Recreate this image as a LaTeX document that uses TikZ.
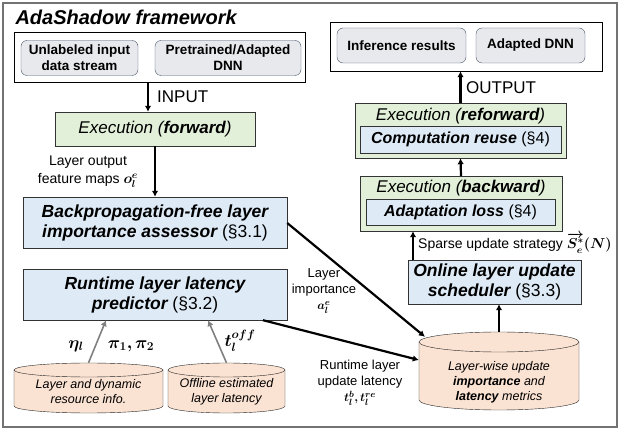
\documentclass[tikz,border=0pt]{standalone}
\usepackage{amsmath,bm}
\usepackage{fontspec}
\setmainfont{Liberation Sans}
\usetikzlibrary{arrows.meta}

\definecolor{boxblue}{HTML}{DEEBF7}
\definecolor{boxgreen}{HTML}{E2F0D9}
\definecolor{boxgray}{HTML}{E8E9ED}
\definecolor{edgegray}{HTML}{44546A}
\definecolor{dbpeach}{HTML}{FBE3D3}

\newcommand{\secnum}[1]{{\upshape\mdseries(§#1)}}

\tikzset{
  arr/.style={-{Latex[length=6pt,width=6.5pt]}, line width=2.2pt},
  garr/.style={-{Latex[length=6pt,width=6.5pt]}, line width=1.6pt, black!50},
}

\begin{document}
\begin{tikzpicture}[x=1pt,y=-1pt]
        \useasboundingbox (0,0) rectangle (619,430);
        \draw[black!55, line width=1.5pt] (3,3) rectangle (617,427);
        \node[anchor=base west, font=\fontsize{20}{24}\selectfont\bfseries\itshape] (title) at (12,25) {AdaShadow framework};

        % input / output frames
        \begin{scope}[every node/.style={draw, fill=white, inner sep=0}]
          \node[minimum width=291, minimum height=50] (incont)  at (159.5,57)  {};
          \node[minimum width=272, minimum height=49] (outcont) at (466,46.5)  {};
        \end{scope}

        \begin{scope}[every node/.style={draw=edgegray, fill=boxgray, rounded corners=6pt, align=center,
            inner sep=0, minimum height=35, font=\fontsize{13.5}{16}\selectfont\bfseries}]
          \node[minimum width=117] (unl) at (79.5,58)   {Unlabeled input\\data stream};
          \node[minimum width=146] (pre) at (228,58)    {Pretrained/Adapted\\DNN};
          \node[minimum width=129] (inf) at (401.5,45.5) {Inference results};
          \node[minimum width=109] (adn) at (530.5,45.5) {Adapted DNN};
        \end{scope}

        % execution stages
        \begin{scope}[every node/.style={draw=black!80, fill=boxgreen, inner sep=0,
            font=\fontsize{17}{20}\selectfont\itshape}]
          \node[minimum width=200, minimum height=34] (fw)   at (155,129)   {Execution (\textbf{forward})};
          \node[minimum width=211, minimum height=55] (refw) at (460.5,130.5) {};
          \node[minimum width=202, minimum height=55] (bw)   at (461,203.5) {};
        \end{scope}
        \begin{scope}[every node/.style={inner sep=0, font=\fontsize{17}{20}\selectfont\itshape}]
          \node (refwt) at (460.5,116) {Execution (\textbf{reforward})};
          \node (bwt)   at (461,188)   {Execution (\textbf{backward})};
        \end{scope}

        % modules
        \begin{scope}[every node/.style={draw=black!80, fill=boxblue, align=center, inner sep=0,
            font=\fontsize{17.5}{20}\selectfont\bfseries\itshape}]
          \node[minimum width=264, minimum height=51] (bp)    at (155,222.5) {Backpropagation-free layer\\importance assessor \secnum{3.1}};
          \node[minimum width=264, minimum height=51] (pred)  at (155,294.5) {Runtime layer latency\\predictor \secnum{3.2}};
          \node[minimum width=173, minimum height=44] (sched) at (494.5,282) {Online layer update\\scheduler \secnum{3.3}};
          \node[minimum width=201, minimum height=27, font=\fontsize{16}{19}\selectfont\bfseries\itshape] (cr) at (460.5,139.5) {Computation reuse \secnum{4}};
          \node[minimum width=189, minimum height=26, font=\fontsize{16}{19}\selectfont\bfseries\itshape] (al) at (460.5,212) {Adaptation loss \secnum{4}};
        \end{scope}

        % databases: centre x / top / bottom / x radius / y radius
        \foreach \cx/\yt/\yb/\rx/\ry in {88.5/363/413/74.5/7, 226.5/363/413/58.5/7, 499/332/410/80/10}{
          \path[draw=black!85, fill=dbpeach] ({\cx-\rx},{\yt+\ry}) -- ({\cx-\rx},{\yb-\ry})
            arc[start angle=180, end angle=360, x radius=\rx pt, y radius=\ry pt]
            -- ({\cx+\rx},{\yt+\ry})
            arc[start angle=0, end angle=180, x radius=\rx pt, y radius=\ry pt] -- cycle;
          \draw[black!85] ({\cx-\rx},{\yt+\ry}) arc[start angle=180, end angle=360, x radius=\rx pt, y radius=\ry pt];
        }
        \begin{scope}[every node/.style={align=center, inner sep=0, font=\fontsize{12.5}{15}\selectfont\itshape}]
          \node[minimum width=149, minimum height=58]  (cyl1)   at (88.5,392) {Layer and dynamic\\resource info.};
          \node[minimum width=117, minimum height=58]  (cyl2)   at (226.5,392) {Offline estimated\\layer latency};
          \node[minimum width=160, minimum height=100] (bigcyl) at (499,382) {Layer-wise update\\\textbf{importance} and\\\textbf{latency} metrics};
        \end{scope}

        % connectors
        \draw[arr] (incont.south -| 148,0) -- (fw.north -| 148,0);
        \draw[arr] (fw.south) -- (bp.north);
        \draw[arr] (bp.east |- 0,223) -- ([xshift=-74pt,yshift=-5pt]bigcyl.north);
        \draw[arr] (pred.south -| 263,0) -- ([yshift=22pt]bigcyl.west);
        \draw[garr] (cyl1.north) -- (pred.south -| 106,0);
        \draw[garr] (cyl2.north) -- (pred.south -| 208,0);
        \draw[arr] (bigcyl.north) -- (bigcyl.north |- sched.south);
        \draw[arr] (sched.north -| 413,0) -- (bw.south -| 413,0);
        \draw[arr] (bw.north) -- (refw.south);
        \draw[arr] (refw.north) -- (outcont.south -| refw.north);

        % labels
        \begin{scope}[every node/.style={align=center, inner sep=0, font=\fontsize{14}{18}\selectfont}]
          \node[anchor=west, font=\fontsize{17}{20}\selectfont] (inl)  at (157,97) {INPUT};
          \node[anchor=west, font=\fontsize{17}{20}\selectfont] (outl) at (466,88) {OUTPUT};
          \node (featl) at (88,172) {Layer output\\feature maps $\bm{o_l^e}$};
          \node[anchor=west] (sparl) at (418,243) {Sparse update strategy $\bm{\overrightarrow{S_e^*}(N)}$};
          \node[font=\fontsize{13}{16}\selectfont] (impl) at (324,291) {Layer\\importance\\$\bm{a_l^e}$};
          \node[font=\fontsize{13}{16}\selectfont] (latl) at (360,383) {Runtime layer\\update latency\\$\bm{t_l^b,t_l^{re}}$};
          \node[font=\fontsize{17}{20}\selectfont] (eta)  at (76,346)  {$\bm{\eta_l}$};
          \node[font=\fontsize{17}{20}\selectfont] (pis)  at (131,346) {$\bm{\pi_1,\pi_2}$};
          \node[font=\fontsize{17}{20}\selectfont] (toff) at (240,341) {$\bm{t_l^{off}}$};
        \end{scope}

      \end{tikzpicture}
\end{document}
